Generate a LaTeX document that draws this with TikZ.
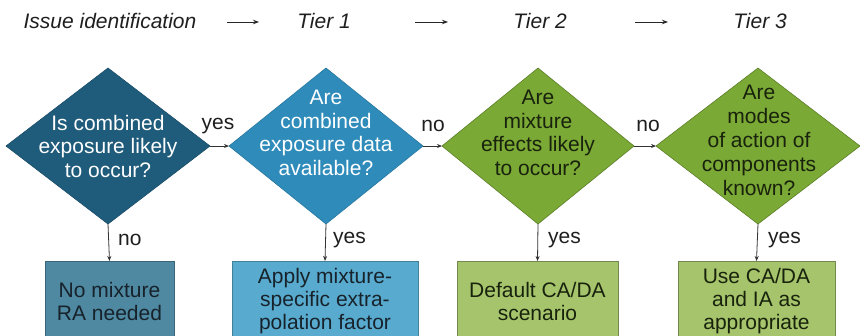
\documentclass[tikz,border=0pt]{standalone}
\usepackage{fontspec}
\setmainfont{Liberation Sans}
\usetikzlibrary{shapes.geometric,arrows.meta}
\definecolor{dOne}{HTML}{1F5B7B}
\definecolor{dTwo}{HTML}{2F8CBA}
\definecolor{dGreen}{HTML}{7BA936}
\definecolor{bOne}{HTML}{4E88A1}
\definecolor{bTwo}{HTML}{58ABCE}
\definecolor{bGreen}{HTML}{A5C46B}
\definecolor{txtDark}{HTML}{17222B}
\definecolor{txtGreen}{HTML}{18220C}
\definecolor{lineGray}{HTML}{333333}
\begin{document}
\begin{tikzpicture}[x=1pt,y=-1pt,
  dia/.style={diamond, inner sep=0pt, outer sep=0pt, line width=0.6pt},
  dtxt/.style={align=center, inner sep=0pt, font=\fontsize{21}{23.5}\selectfont},
  boxnode/.style={rectangle, inner sep=0pt, outer sep=0pt, line width=0.8pt, align=center,
     font=\fontsize{21}{23}\selectfont, text=txtDark},
  lbl/.style={inner sep=0pt, font=\fontsize{21}{23}\selectfont, text=black!88},
  hdr/.style={inner sep=0pt, font=\fontsize{21}{23}\selectfont\itshape, text=black!88},
  conn/.style={draw=lineGray, line width=0.8pt, -{Stealth[length=5pt,width=4pt]}},
  harr/.style={draw=black!85, line width=1pt, -{Stealth[length=6pt,width=4.5pt]}}
]
\useasboundingbox (0,0) rectangle (860,335);
\fill[white] (0,0) rectangle (860,335);

% header
\node[hdr] (h0) at (110,21) {Issue identification};
\node[hdr] (h1) at (324,21) {Tier 1};
\node[hdr] (h2) at (540,21) {Tier 2};
\node[hdr] (h3) at (760,21) {Tier 3};
\coordinate (ha1) at (227,22); \coordinate (hb1) at (259,22);
\coordinate (ha2) at (415,22); \coordinate (hb2) at (448,22);
\coordinate (ha3) at (635,22); \coordinate (hb3) at (668,22);
\draw[harr] (ha1) -- (hb1);
\draw[harr] (ha2) -- (hb2);
\draw[harr] (ha3) -- (hb3);

% diamonds
\node[dia, fill=dOne, draw=dOne!85!black, minimum width=204pt, minimum height=156pt] (d1) at (108,146) {};
\node[dia, fill=dTwo, draw=dTwo!85!black, minimum width=194pt, minimum height=156pt] (d2) at (326,146) {};
\node[dia, fill=dGreen, draw=dGreen!75!black, minimum width=192pt, minimum height=156pt] (d3) at (538,146) {};
\node[dia, fill=dGreen, draw=dGreen!75!black, minimum width=204pt, minimum height=156pt] (d4) at (758,146) {};

\node[dtxt, text=white] (t1) at (108,146) {Is combined\\exposure likely\\to occur?};
\node[dtxt, text=white] (t2) at (326,133) {Are\\combined\\exposure data\\available?};
\node[dtxt, text=txtGreen] (t3) at (538,133) {Are\\mixture\\effects likely\\to occur?};
\node[dtxt, text=txtGreen, font=\fontsize{21}{24}\selectfont] (t4) at (759,140) {Are\\modes\\of action of\\components\\known?};

% boxes
\node[boxnode, fill=bOne, draw=bOne!75!black, minimum width=129pt, minimum height=80pt] (b1) at (109.5,301) {No mixture\\RA needed};
\node[boxnode, fill=bTwo, draw=bTwo!75!black, minimum width=186pt, minimum height=80pt] (b2) at (325,301) {Apply mixture-\\specific extra-\\polation factor};
\node[boxnode, fill=bGreen, draw=bGreen!70!black, minimum width=161pt, minimum height=80pt, text=txtGreen] (b3) at (537.5,301) {Default CA/DA\\scenario};
\node[boxnode, fill=bGreen, draw=bGreen!70!black, minimum width=157pt, minimum height=80pt, text=txtGreen] (b4) at (756.5,301) {Use CA/DA\\and IA as\\appropriate};

% connectors
\draw[conn] (d1.east) -- (d2.west);
\draw[conn] (d2.east) -- (d3.west);
\draw[conn] (d3.east) -- (d4.west);
\draw[conn] (d1.south) -- (b1.north);
\draw[conn] (d2.south) -- (b2.north);
\draw[conn] (d3.south) -- (b3.north);
\draw[conn] (d4.south) -- (b4.north);

% labels
\node[lbl] (l1) at (218,126) {yes};
\node[lbl] (l2) at (433,126) {no};
\node[lbl] (l3) at (648,126) {no};
\node[lbl, anchor=west] (l4) at (118,240) {no};
\node[lbl, anchor=west] (l5) at (333,240) {yes};
\node[lbl, anchor=west] (l6) at (548,240) {yes};
\node[lbl, anchor=west] (l7) at (768,240) {yes};
\end{tikzpicture}
\end{document}
